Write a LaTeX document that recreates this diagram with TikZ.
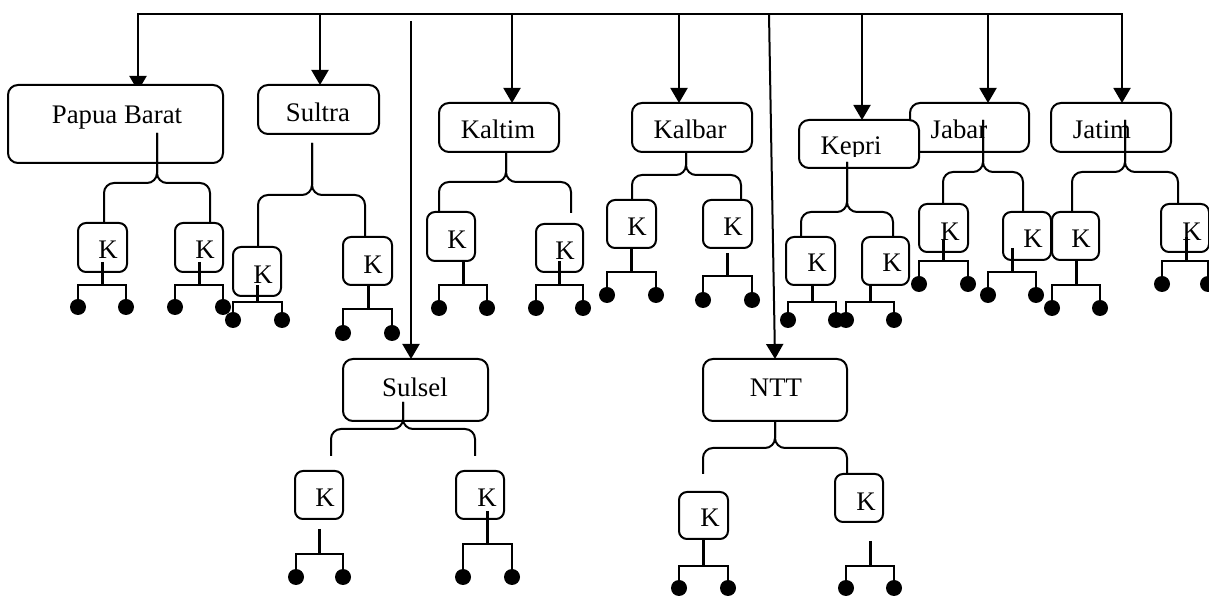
\documentclass[tikz,border=0pt]{standalone}
\usepackage{fontspec}
\setmainfont{Liberation Serif}
\usetikzlibrary{arrows.meta}
\pgfdeclarelayer{bg}
\pgfsetlayers{bg,main}
\tikzset{
 prov/.style={draw, line width=1pt, rounded corners=5pt, fill=white, inner sep=0pt, outer sep=0pt},
 kb/.style={draw, line width=1pt, rounded corners=4pt, fill=white, inner sep=0pt, outer sep=0pt},
 lbl/.style={inner sep=0pt, anchor=base},
 ktxt/.style={inner sep=0pt},
 topline/.style={line width=1.1pt, line cap=rect},
 arr/.style={line width=1pt, -{Triangle[length=7.5pt,width=8.5pt]}},
 brc/.style={line width=1pt, rounded corners=5pt},
 stemline/.style={line width=1.5pt},
 barline/.style={line width=1pt},
 dot/.style={circle, fill=black, inner sep=0pt, minimum size=8pt},
}
\newcommand\provbox[8]{%
 \node[prov, minimum width={(#3-#2)*0.5pt}, minimum height={(#5-#4)*0.5pt}] (#1) at ({(#2+#3)/2},{(#4+#5)/2}) {};
 \node[lbl] (#1t) at (#6,#7) {#8};}
\newcommand\kbx[7]{%
 \node[kb, minimum width={(#3-#2)*0.5pt}, minimum height={(#5-#4)*0.5pt}] (#1) at ({(#2+#3)/2},{(#4+#5)/2}) {};
 \node[ktxt] (#1t) at (#6,#7) {K};}
\newcommand\rake[7]{%
 \coordinate (#1s) at (#2,#3);
 \coordinate (#1j) at (#2,#4);
 \node[dot] (#1a) at (#5,#7) {};
 \node[dot] (#1b) at (#6,#7) {};
 \draw[stemline] (#1s) -- (#1j);
 \draw[barline] (#1a.center) |- (#1j) -| (#1b.center);}
\newcommand\mybrc[8]{%
 \coordinate (#1brT) at (#2,#3);
 \coordinate (#1brL) at (#5,#6);
 \coordinate (#1brR) at (#7,#8);
 \draw[brc] (#1brT) -- (#2,#4) -- (#5,#4) -- (#1brL);
 \draw[brc] (#1brT) -- (#2,#4) -- (#7,#4) -- (#1brR);}
\begin{document}
\begin{tikzpicture}[x=0.5pt, y=-0.5pt, font=\fontsize{13.4}{16}\selectfont]
\useasboundingbox (0,0) rectangle (1209,597);
% drop points on the top line
\coordinate (tPB) at (138,14);
\coordinate (tSU) at (320,14);
\coordinate (tKT) at (512,14);
\coordinate (tKB) at (679,14);
\coordinate (tNT) at (769,14);
\coordinate (tKP) at (862,14);
\coordinate (tJB) at (988,14);
\coordinate (tJT) at (1122,14);
\coordinate (sSS) at (411,21);
% province boxes
\provbox{PB}{8}{223}{85}{163}{117}{124}{Papua Barat}
\provbox{SU}{258}{379}{85}{134}{318}{122}{Sultra}
\provbox{KT}{439}{559}{103}{152}{498}{139}{Kaltim}
\provbox{KB}{632}{752}{103}{152}{690}{139}{Kalbar}
\provbox{JB}{910}{1029}{103}{152}{959}{139}{Jabar}
\node[prov, minimum width=60pt, minimum height=24pt] (KP) at (859,144) {};
\begin{scope}
\clip (800,121) rectangle (918,156.5);
\node[lbl] (KPt) at (851,155) {Kepri};
\end{scope}
\provbox{JT}{1051}{1171}{103}{152}{1102}{139}{Jatim}
\provbox{SS}{343}{488}{359}{421}{415}{397}{Sulsel}
\provbox{NT}{703}{847}{359}{421}{776}{397}{NTT}
% arrows (behind boxes)
\begin{pgfonlayer}{bg}
\draw[topline] (tPB) -- (tJT);
\draw[arr, shorten >=-3pt] (tPB) -- (tPB |- PB.north);
\draw[arr] (tSU) -- (tSU |- SU.north);
\draw[arr] (tKT) -- (tKT |- KT.north);
\draw[arr] (tKB) -- (tKB |- KB.north);
\draw[arr] (tNT) -- (NT.north);
\draw[arr] (tKP) -- (tKP |- KP.north);
\draw[arr] (tJB) -- (tJB |- JB.north);
\draw[arr] (tJT) -- (tJT |- JT.north);
\draw[arr] (sSS) -- (sSS |- SS.north);
\end{pgfonlayer}
% K boxes
\kbx{PBl}{78}{127}{223}{272}{108}{250}
\kbx{PBr}{175}{223}{223}{272}{205}{250}
\kbx{SUl}{233}{281}{247}{296}{263}{275}
\kbx{SUr}{343}{392}{237}{285}{373}{265}
\kbx{KTl}{427}{475}{212}{261}{457}{240}
\kbx{KTr}{536}{583}{224}{272}{565}{251}
\kbx{KBl}{607}{656}{200}{248}{637}{227}
\kbx{KBr}{703}{752}{200}{248}{733}{227}
\kbx{KPl}{786}{835}{237}{285}{817}{263}
\kbx{KPr}{862}{909}{237}{285}{892}{263}
\kbx{JBl}{919}{968}{204}{252}{950}{232}
\kbx{JBr}{1003}{1051}{212}{260}{1033}{239}
\kbx{JTl}{1052}{1099}{212}{260}{1081}{239}
\kbx{JTr}{1161}{1209}{204}{252}{1192}{232}
\kbx{SSl}{295}{343}{471}{519}{325}{498}
\kbx{SSr}{456}{504}{471}{519}{487}{498}
\kbx{NTl}{679}{728}{492}{539}{710}{518}
\kbx{NTr}{835}{883}{474}{522}{866}{502}
% braces
\mybrc{PB}{157}{133}{183}{104}{222}{210}{222}
\mybrc{SU}{312}{143}{195}{258}{247}{365}{237}
\mybrc{KT}{506}{152}{182}{439}{212}{571}{213}
\mybrc{KB}{686}{152}{175}{632}{200}{741}{200}
\mybrc{KP}{847}{162}{212}{801}{237}{893}{237}
\mybrc{JB}{983}{120}{172}{943}{204}{1023}{212}
\mybrc{JT}{1125}{120}{172}{1072}{212}{1178}{204}
\mybrc{SS}{403}{402}{429}{331}{456}{475}{456}
\mybrc{NT}{775}{421}{448}{703}{474}{847}{473}
% rakes with dots
\rake{PBl}{102}{262}{285}{78}{126}{307}
\rake{PBr}{199}{262}{285}{175}{223}{307}
\rake{SUl}{257}{285}{302}{233}{282}{320}
\rake{SUr}{368}{285}{309}{343}{392}{333}
\rake{KTl}{463}{261}{285}{439}{487}{308}
\rake{KTr}{559}{261}{285}{536}{583}{308}
\rake{KBl}{631}{248}{272}{607}{656}{295}
\rake{KBr}{727}{253}{276}{703}{752}{300}
\rake{KPl}{812}{285}{302}{788}{836}{320}
\rake{KPr}{870}{285}{302}{846}{894}{320}
\rake{JBl}{943}{240}{261}{919}{968}{284}
\rake{JBr}{1012}{248}{272}{988}{1036}{295}
\rake{JTl}{1076}{260}{285}{1052}{1100}{308}
\rake{JTr}{1186}{237}{261}{1162}{1208}{284}
\rake{SSl}{319}{529}{554}{296}{343}{577}
\rake{SSr}{487}{511}{544}{463}{512}{577}
\rake{NTl}{703}{539}{566}{679}{728}{588}
\rake{NTr}{870}{541}{566}{846}{894}{588}
\end{tikzpicture}
\end{document}
